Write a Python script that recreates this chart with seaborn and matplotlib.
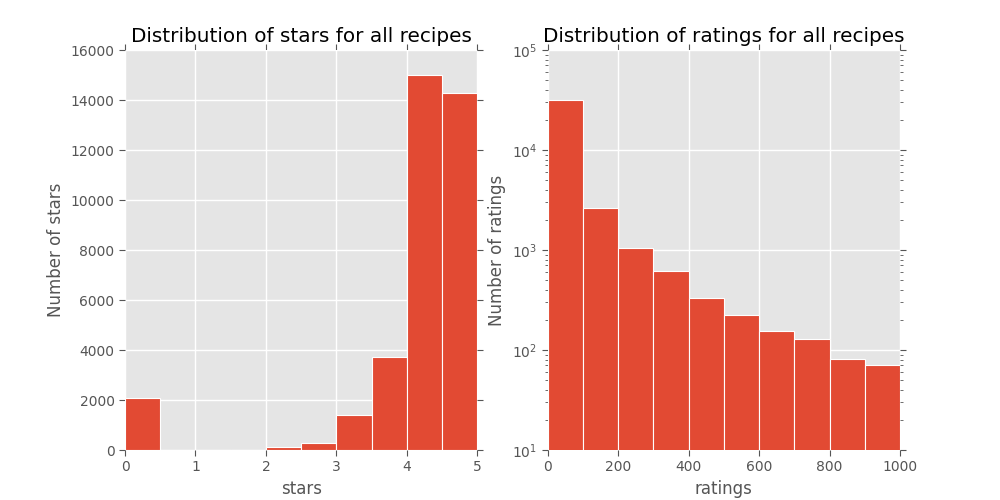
import numpy as np
import pandas as pd
import seaborn as sns
import matplotlib
matplotlib.use("Agg")
import matplotlib.pyplot as plt

# star histogram: 10 bins of width 0.5
star_edges = [0.0, 0.5, 1.0, 1.5, 2.0, 2.5, 3.0, 3.5, 4.0, 4.5, 5.0]
star_counts = [2100, 0, 8, 12, 120, 270, 1400, 3720, 15000, 14280]

# ratings histogram: 10 bins of width 100
rating_edges = [0, 100, 200, 300, 400, 500, 600, 700, 800, 900, 1000]
rating_counts = [31600, 2650, 1055, 621, 334, 226, 156, 130, 82, 70]

bar_color = "#E24A33"


def draw_hist(ax, edges, counts):
    centers = [(a + b) / 2 for a, b in zip(edges[:-1], edges[1:])]
    df = pd.DataFrame({"x": centers, "n": counts})
    sns.histplot(data=df, x="x", weights="n", bins=edges, ax=ax,
                 color=bar_color, alpha=1, edgecolor="white", linewidth=0.8)


def main():
    plt.style.use("ggplot")
    plt.rcParams["font.family"] = ["DejaVu Sans"]
    plt.rcParams["axes.titlecolor"] = "black"

    fig, (ax1, ax2) = plt.subplots(1, 2, figsize=(10, 5), dpi=100)
    fig.subplots_adjust(left=0.125, right=0.9, bottom=0.1, top=0.9, wspace=0.2)

    draw_hist(ax1, star_edges, star_counts)
    ax1.set_xlim(0, 5)
    ax1.set_ylim(0, 16000)
    ax1.set_yticks(np.arange(0, 16001, 2000))
    ax1.set_title("Distribution of stars for all recipes", fontsize=14.4)
    ax1.set_xlabel("stars", fontsize=12)
    ax1.set_ylabel("Number of stars", fontsize=12)

    draw_hist(ax2, rating_edges, rating_counts)
    ax2.set_yscale("log")
    ax2.set_xlim(0, 1000)
    ax2.set_ylim(10, 1e5)
    ax2.set_xticks(range(0, 1001, 200))
    ax2.set_title("Distribution of ratings for all recipes", fontsize=14.4)
    ax2.set_xlabel("ratings", fontsize=12)
    ax2.set_ylabel("Number of ratings", fontsize=12)

    for ax in (ax1, ax2):
        ax.set_axisbelow(True)
        ax.grid(True, color="white", linewidth=1)
        ax.grid(False, which="minor")
        ax.tick_params(which="both", direction="out", top=True, right=True,
                       colors="#555555", labelsize=10)
        ax.tick_params(which="major", length=4)
        ax.tick_params(which="minor", length=2)
        for s in ax.spines.values():
            s.set_visible(False)

    fig.savefig("out.png", dpi=100)


if __name__ == "__main__":
    main()
